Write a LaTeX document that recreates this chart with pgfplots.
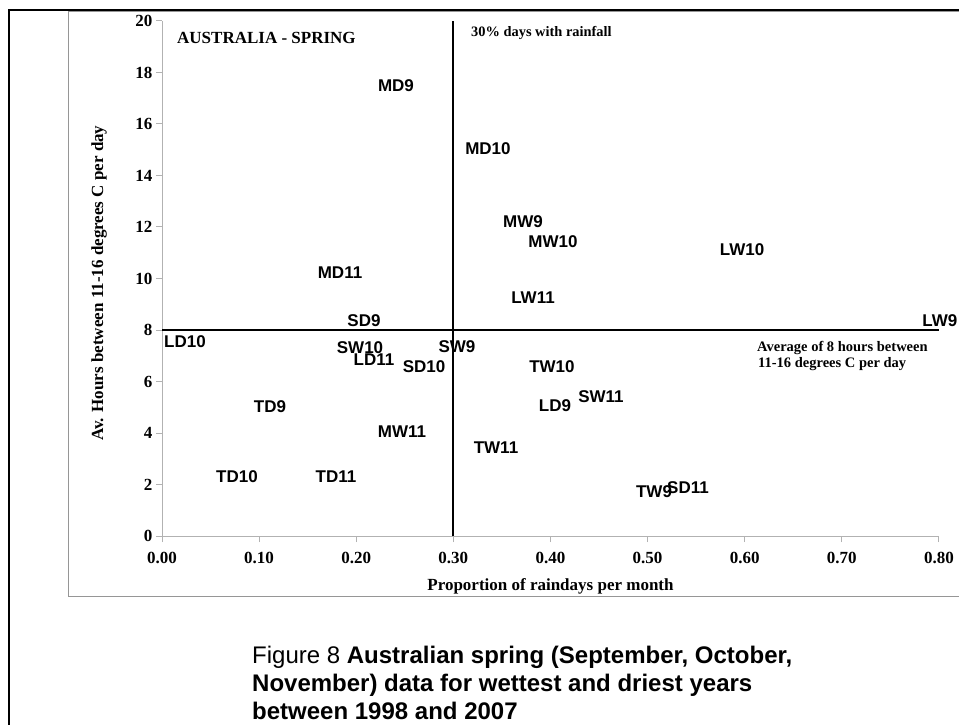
\documentclass[border=0pt]{standalone}
\usepackage{fontspec}
\setmainfont{Liberation Serif}
\newfontfamily\arial{Liberation Sans}
\usepackage{pgfplots}
\pgfplotsset{compat=1.18}
\definecolor{axgray}{RGB}{178,178,178}
\definecolor{framegray}{RGB}{150,150,150}
\begin{document}
\begin{tikzpicture}[x=1pt,y=1pt]
\useasboundingbox (0,0) rectangle (959,724);
\fill[white] (0,0) rectangle (959,724);
\draw[framegray, line width=1pt] (975,128) -- (68,128) -- (68,712.5) -- (975,712.5);
\draw[black, line width=2pt] (9,-10) -- (9,714) -- (975,714);
\begin{axis}[
  scale only axis, width=777pt, height=515pt,
  at={(162pt,188pt)}, anchor=south west,
  xmin=0, xmax=0.8, ymin=0, ymax=20,
  axis x line*=bottom, axis y line*=left,
  axis line style={axgray, line width=1pt},
  xtick={0,0.1,0.2,0.3,0.4,0.5,0.6,0.7,0.8},
  ytick={0,2,4,6,8,10,12,14,16,18,20},
  scaled ticks=false,
  tick align=outside, major tick length=6pt,
  tick style={axgray, line width=1pt},
  /pgf/number format/assume math mode=true,
  ticklabel style={font=\fontsize{17}{20}\selectfont\bfseries},
  xticklabel style={yshift=-7pt, /pgf/number format/fixed, /pgf/number format/zerofill, /pgf/number format/precision=2},
  xlabel={Proportion of raindays per month},
  ylabel={Av. Hours between 11-16 degrees C per day},
  every axis x label/.style={at={(axis description cs:0.5,-0.1049)}, anchor=base},
  every axis y label/.style={at={(axis description cs:-0.0759,0.491)}, rotate=90, anchor=base},
  label style={font=\fontsize{17}{20}\selectfont\bfseries},
  clip=false,
]
\addplot[only marks, mark=*, mark size=0pt, mark options={draw=none, fill=none},
  nodes near coords, point meta=explicit symbolic,
  nodes near coords style={anchor=center, inner sep=0pt, font=\arial\fontsize{17}{20}\selectfont\bfseries, text=black}]
  table[meta=lab] {
x y lab
0.2409 17.48 MD9
0.3356 15.03 MD10
0.3717 12.19 MW9
0.4026 11.42 MW10
0.5972 11.11 LW10
0.3820 9.24 LW11
0.8010 8.35 LW9
0.1833 10.21 MD11
0.2080 8.35 SD9
0.0237 7.53 LD10
0.2039 7.30 SW10
0.3037 7.34 SW9
0.2183 6.83 LD11
0.2698 6.56 SD10
0.4015 6.56 TW10
0.4520 5.40 SW11
0.4046 5.05 LD9
0.1112 5.01 TD9
0.2471 4.04 MW11
0.3439 3.42 TW11
0.0772 2.29 TD10
0.1792 2.29 TD11
0.5066 1.71 TW9
0.5416 1.86 SD11
};
\addplot[black, line width=2pt] coordinates {(0.3,0) (0.3,20)};
\addplot[black, line width=2pt] coordinates {(0,8) (0.8,8)};
\end{axis}
\node[anchor=base west, inner sep=0pt, font=\fontsize{17}{20}\selectfont\bfseries] at (177,680) {AUSTRALIA - SPRING};
\node[anchor=base west, inner sep=0pt, font=\fontsize{14.4}{17}\selectfont\bfseries] at (471,687) {30\% days with rainfall};
\node[anchor=base west, inner sep=0pt, font=\fontsize{14.5}{17}\selectfont\bfseries] at (757,372) {Average of 8 hours between};
\node[anchor=base west, inner sep=0pt, font=\fontsize{14.5}{17}\selectfont\bfseries] at (758,356) {11-16 degrees C per day};
\node[anchor=base west, inner sep=0pt, font=\arial\fontsize{24}{28}\selectfont] at (252,61) {Figure 8 \textbf{Australian spring (September, October,}};
\node[anchor=base west, inner sep=0pt, font=\arial\fontsize{24}{28}\selectfont\bfseries] at (252,33) {November) data for wettest and driest years};
\node[anchor=base west, inner sep=0pt, font=\arial\fontsize{24}{28}\selectfont\bfseries] at (252,5) {between 1998 and 2007};
\end{tikzpicture}
\end{document}
